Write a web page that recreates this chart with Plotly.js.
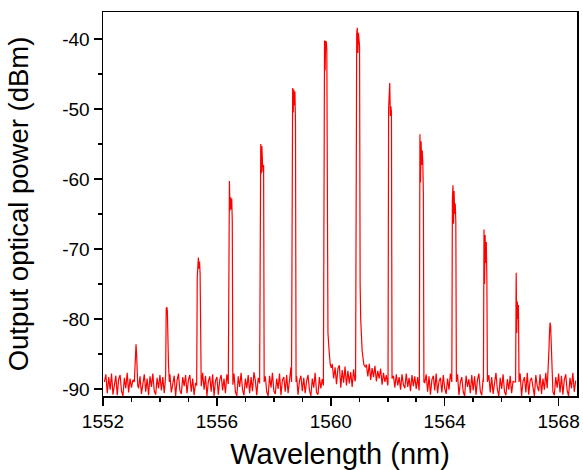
<!DOCTYPE html>
<html>
<head>
<meta charset="utf-8">
<script src="https://cdn.plot.ly/plotly-3.0.1.min.js"></script>
<style>html,body{margin:0;padding:0;background:#fff;}#chart{width:583px;height:470px;}</style>
</head>
<body>
<div id="chart"></div>
<script>
// Noise floor of the spectrum, sampled every 0.05 nm starting at 1552.05 nm (dBm)
const floorStart = 1552.05;
const floorStep = 0.05;
const floorDbm = [
  -89.0,-87.9,-90.6,-88.3,-90.1,-87.8,-90.8,-89.2,-88.1,-90.9,-88.6,-88.0,-90.3,-91.0,-88.4,-89.9,-87.7,-90.5,-88.5,-89.8,
  -88.7,-87.8,-87.3,-88.0,-89.9,-88.2,-90.7,-88.9,-87.9,-90.4,-88.5,-90.9,-88.2,-89.7,-87.8,-90.3,-90.8,-88.4,-89.9,-88.0,
  -90.2,-88.3,-90.6,-88.7,-88.5,-90.0,-87.9,-90.5,-89.0,-88.1,-91.0,-88.8,-87.8,-90.2,-90.7,-88.3,-89.6,-88.0,-90.6,-88.7,
  -88.0,-90.4,-88.5,-90.9,-89.1,-88.6,-87.8,-90.7,-89.0,-87.7,-90.1,-88.1,-91.0,-88.9,-88.2,-90.4,-87.9,-91.0,-88.8,-88.3,
  -90.8,-88.7,-88.0,-90.2,-88.5,-90.6,-87.9,-89.9,-90.9,-88.4,-89.8,-87.8,-90.4,-91.0,-88.2,-89.7,-87.7,-90.1,-90.9,-88.5,
  -89.9,-88.0,-90.6,-88.3,-90.3,-87.6,-88.8,-90.9,-88.4,-90.0,-87.9,-90.8,-88.7,-88.2,-90.4,-91.0,-88.1,-89.8,-87.7,-90.3,
  -90.7,-88.5,-90.0,-87.8,-90.9,-88.7,-88.3,-90.4,-88.0,-90.6,-88.6,-86.9,-89.0,-88.5,-89.6,-88.2,-90.8,-88.8,-88.1,-90.3,
  -88.4,-90.6,-88.9,-88.0,-90.2,-91.0,-88.5,-89.8,-87.7,-90.5,-90.8,-88.3,-89.9,-88.6,-89.0,-88.5,-87.8,-88.0,-87.2,-87.0,
  -86.4,-88.5,-86.9,-89.3,-87.1,-86.6,-89.8,-87.3,-89.1,-86.8,-89.5,-87.4,-89.2,-87.6,-89.7,-87.2,-88.9,-87.0,-88.4,-87.3,
  -86.5,-86.8,-87.0,-86.9,-86.5,-88.2,-86.4,-88.7,-87.0,-88.3,-86.7,-88.9,-87.4,-88.5,-87.1,-89.4,-87.7,-89.0,-88.0,-89.5,
  -89.0,-89.0,-89.0,-88.1,-89.8,-87.9,-89.5,-88.3,-90.1,-87.9,-89.4,-89.9,-87.8,-89.7,-88.4,-90.3,-88.0,-89.6,-88.2,-90.0,
  -88.3,-90.2,-88.8,-89.8,-88.9,-89.1,-87.9,-90.4,-88.2,-90.8,-88.7,-88.1,-90.2,-87.8,-90.6,-88.9,-88.4,-90.5,-88.0,-89.9,
  -90.7,-88.5,-90.1,-87.8,-89.9,-89.0,-89.2,-89.1,-87.9,-90.9,-89.0,-88.3,-90.4,-91.0,-88.1,-89.7,-88.6,-90.6,-88.0,-90.2,
  -88.2,-90.8,-88.7,-87.8,-90.3,-90.9,-88.5,-89.0,-89.1,-89.2,-88.0,-90.5,-88.3,-90.7,-89.0,-87.7,-90.1,-91.0,-88.4,-90.0,
  -87.9,-90.4,-90.9,-88.6,-90.1,-88.1,-90.6,-88.9,-89.0,-89.0,-88.9,-90.2,-87.8,-91.0,-88.9,-88.3,-90.5,-87.7,-90.8,-88.8,
  -88.4,-90.0,-91.0,-88.0,-89.6,-90.3,-87.9,-90.7,-88.5,-90.1,-87.7,-89.9,-88.5,-88.5,-88.5,-90.4,-90.9,-88.3,-89.8,-87.8,
  -90.5,-88.1,-90.8,-88.7,-87.9,-90.2,-91.0,-88.4,-89.9,-87.7,-90.4,-88.8
];

// Comb lines: wavelengths (nm) and powers (dBm) read across each peak
const peakWl = [
  [1553.10,1553.12,1553.14,1553.16,1553.18,1553.20,1553.22],
  [1554.18,1554.20,1554.22,1554.24,1554.26,1554.28,1554.30,1554.33],
  [1555.29,1555.31,1555.33,1555.35,1555.37,1555.39,1555.41,1555.43,1555.45],
  [1556.40,1556.42,1556.44,1556.46,1556.48,1556.50,1556.52,1556.54,1556.56],
  [1557.50,1557.52,1557.54,1557.56,1557.58,1557.60,1557.62,1557.64,1557.66],
  [1558.62,1558.64,1558.66,1558.68,1558.70,1558.72,1558.74,1558.76,1558.78],
  [1559.74,1559.76,1559.78,1559.80,1559.82,1559.84,1559.86,1559.88,1559.90,1559.94,1559.98,1560.02],
  [1560.87,1560.89,1560.91,1560.93,1560.95,1560.97,1560.99,1561.01,1561.03,1561.05,1561.10,1561.16,1561.22],
  [1562.01,1562.03,1562.05,1562.07,1562.09,1562.11,1562.13,1562.15],
  [1563.11,1563.13,1563.15,1563.17,1563.19,1563.21,1563.23,1563.25,1563.27],
  [1564.25,1564.27,1564.29,1564.31,1564.33,1564.35,1564.37,1564.39,1564.41],
  [1565.36,1565.38,1565.40,1565.42,1565.44,1565.46,1565.48,1565.50],
  [1566.49,1566.51,1566.53,1566.55,1566.57,1566.59,1566.61],
  [1567.62,1567.64,1567.66,1567.68,1567.70,1567.72,1567.74,1567.76]
];
const peakDbm = [
  [-89.0,-86.5,-85.8,-83.6,-85.0,-88.5,-89.5],
  [-89.2,-88.0,-78.5,-78.3,-78.8,-84.5,-86.5,-89.0],
  [-89.5,-74.0,-71.3,-71.2,-72.8,-71.8,-73.5,-88.5,-89.6],
  [-89.3,-62.0,-60.3,-64.5,-62.6,-64.3,-62.8,-66.0,-89.4],
  [-89.2,-56.5,-55.0,-59.2,-55.3,-57.6,-59.0,-58.0,-89.0],
  [-89.0,-48.0,-47.0,-50.5,-47.2,-49.5,-47.5,-52.0,-89.0],
  [-89.5,-41.0,-40.2,-44.5,-40.3,-40.4,-41.5,-80.0,-82.0,-84.5,-86.5,-87.0],
  [-88.5,-40.5,-39.2,-38.4,-42.0,-39.1,-40.2,-41.0,-75.0,-80.0,-84.5,-86.5,-86.9],
  [-89.0,-50.0,-46.5,-46.3,-51.0,-49.6,-50.5,-88.5],
  [-89.0,-53.6,-60.5,-54.6,-58.0,-55.9,-57.5,-62.0,-89.0],
  [-89.0,-63.0,-60.9,-66.4,-61.7,-65.0,-63.5,-66.0,-89.0],
  [-89.0,-67.2,-75.0,-68.0,-72.0,-69.0,-74.0,-89.0],
  [-89.0,-73.4,-82.0,-77.5,-80.0,-78.0,-89.0],
  [-88.5,-86.0,-84.5,-82.0,-80.5,-81.0,-84.5,-88.0]
];

// Tick labels
const xTickVals = [1552, 1556, 1560, 1564, 1568];
const xTickText = ['1552', '1556', '1560', '1564', '1568'];
const yTickVals = [-90, -80, -70, -60, -50, -40];
const yTickText = ['-90', '-80', '-70', '-60', '-50', '-40'];

const xTitle = 'Wavelength (nm)';
const yTitle = 'Output optical power (dBm)';

// merge floor + peaks into one spectrum trace
const pts = [];
floorDbm.forEach((v, i) => {
  const x = +(floorStart + i * floorStep).toFixed(2);
  if (!peakWl.some(w => x >= w[0] && x <= w[w.length - 1])) pts.push([x, v]);
});
peakWl.forEach((w, k) => w.forEach((x, j) => pts.push([x, peakDbm[k][j]])));
pts.sort((a, b) => a[0] - b[0]);

const xRange = [1552, 1568.646];
const yRange = [-91.0, -36.14];
const font = 'Liberation Sans, Arial, sans-serif';

const trace = {
  x: pts.map(p => p[0]), y: pts.map(p => p[1]),
  type: 'scatter', mode: 'lines',
  line: {color: '#ff0000', width: 1.2},
  hoverinfo: 'skip', showlegend: false
};

const common = {showgrid: false, zeroline: false, fixedrange: true,
  ticklen: 8, tickwidth: 1.5, tickcolor: '#000'};

const layout = {
  width: 583, height: 470,
  margin: {l: 103, r: 6, t: 12, b: 74},
  paper_bgcolor: '#fff', plot_bgcolor: '#fff',
  font: {family: font, color: '#000'},
  showlegend: false,
  xaxis: Object.assign({}, common, {
    range: xRange, tickmode: 'array', tickvals: xTickVals, ticktext: xTickText, ticks: 'outside',
    showline: true, linecolor: '#000', linewidth: 1.5, mirror: true,
    tickfont: {size: 19, family: font},
    minor: {ticks: 'outside', tick0: 1552, dtick: 1, ticklen: 4, tickwidth: 1.5, tickcolor: '#000'},
    title: {text: xTitle, font: {size: 29, family: font}, standoff: 13}
  }),
  yaxis: Object.assign({}, common, {
    range: yRange, tickmode: 'array', tickvals: yTickVals, ticktext: yTickText, ticks: 'outside',
    showline: true, linecolor: '#000', linewidth: 1.5, mirror: true,
    tickfont: {size: 19, family: font},
    minor: {ticks: 'outside', tick0: -90, dtick: 5, ticklen: 4, tickwidth: 1.5, tickcolor: '#000'},
    title: {text: yTitle, font: {size: 27.5, family: font}, standoff: 25}
  }),
  xaxis2: Object.assign({}, common, {
    overlaying: 'x', side: 'top', anchor: 'y', range: xRange,
    tickmode: 'array', tickvals: xTickVals, ticks: 'inside', showticklabels: false, showline: false,
    minor: {ticks: 'inside', tick0: 1552, dtick: 1, ticklen: 4, tickwidth: 1.5, tickcolor: '#000'}
  }),
  yaxis2: Object.assign({}, common, {
    overlaying: 'y', side: 'right', anchor: 'x', range: yRange,
    tickmode: 'array', tickvals: yTickVals, ticks: 'inside', showticklabels: false, showline: false,
    minor: {ticks: 'inside', tick0: -90, dtick: 5, ticklen: 4, tickwidth: 1.5, tickcolor: '#000'}
  })
};

Plotly.newPlot('chart', [trace], layout, {displayModeBar: false, staticPlot: true});
</script>
</body>
</html>
